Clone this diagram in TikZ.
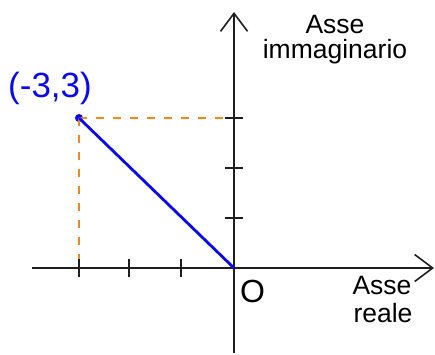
\documentclass[tikz,border=0pt]{standalone}
\usepackage{fontspec}
\setmainfont{Liberation Sans}
\usetikzlibrary{arrows.meta}
\definecolor{dashorange}{RGB}{245,135,30}
\definecolor{vecblue}{RGB}{10,10,240}
\definecolor{axisgray}{RGB}{30,30,30}
\begin{document}
\begin{tikzpicture}[x=1pt,y=-1pt,
  axis/.style={line width=1.6pt, draw=axisgray,
    -{Straight Barb[length=18pt,width=27pt,line width=1.6pt]}},
  tickmark/.style={line width=1.6pt, draw=axisgray},
  guide/.style={line width=2.4pt, draw=dashorange, dash pattern=on 8pt off 9pt},
  vec/.style={line width=2.8pt, draw=vecblue},
  lab/.style={inner sep=0pt, font=\fontsize{26.5}{28}\selectfont},
  origlab/.style={inner sep=0pt, font=\fontsize{32}{34}\selectfont},
  ptlab/.style={inner sep=0pt, text=vecblue, font=\fontsize{35}{36}\selectfont}]
\useasboundingbox (0,0) rectangle (435,354);
% key points
\coordinate (o) at (234,268);
\coordinate (xs) at (32,268);
\coordinate (xe) at (434,268);
\coordinate (ys) at (234,353);
\coordinate (ye) at (234,12);
\coordinate (px) at (79,268);
\coordinate (py) at (234,118);
\node[circle, fill=vecblue, inner sep=0pt, minimum size=8pt] (p) at (79,118) {};
% guides
\draw[guide] (p.center) -- (py);
\draw[guide] (p.center) -- (px);
% axes
\draw[axis] (xs) -- (xe);
\draw[axis] (ys) -- (ye);
% ticks
\foreach \x in {79,129,181} \draw[tickmark] (\x,259) -- (\x,277);
\foreach \y in {118,168,218} \draw[tickmark] (225,\y) -- (243,\y);
% vector
\draw[vec] (p.center) -- (o);
% labels
\node[ptlab, anchor=base west] (plab) at (8,97) {(-3,3)};
\node[origlab, anchor=base west] (olab) at (240,302) {O};
\node[lab, anchor=base] (im1) at (335,33) {Asse};
\node[lab, anchor=base] (im2) at (335,58) {immaginario};
\node[lab, anchor=base] (re1) at (382,294) {Asse};
\node[lab, anchor=base] (re2) at (383,322) {reale};
\end{tikzpicture}
\end{document}
